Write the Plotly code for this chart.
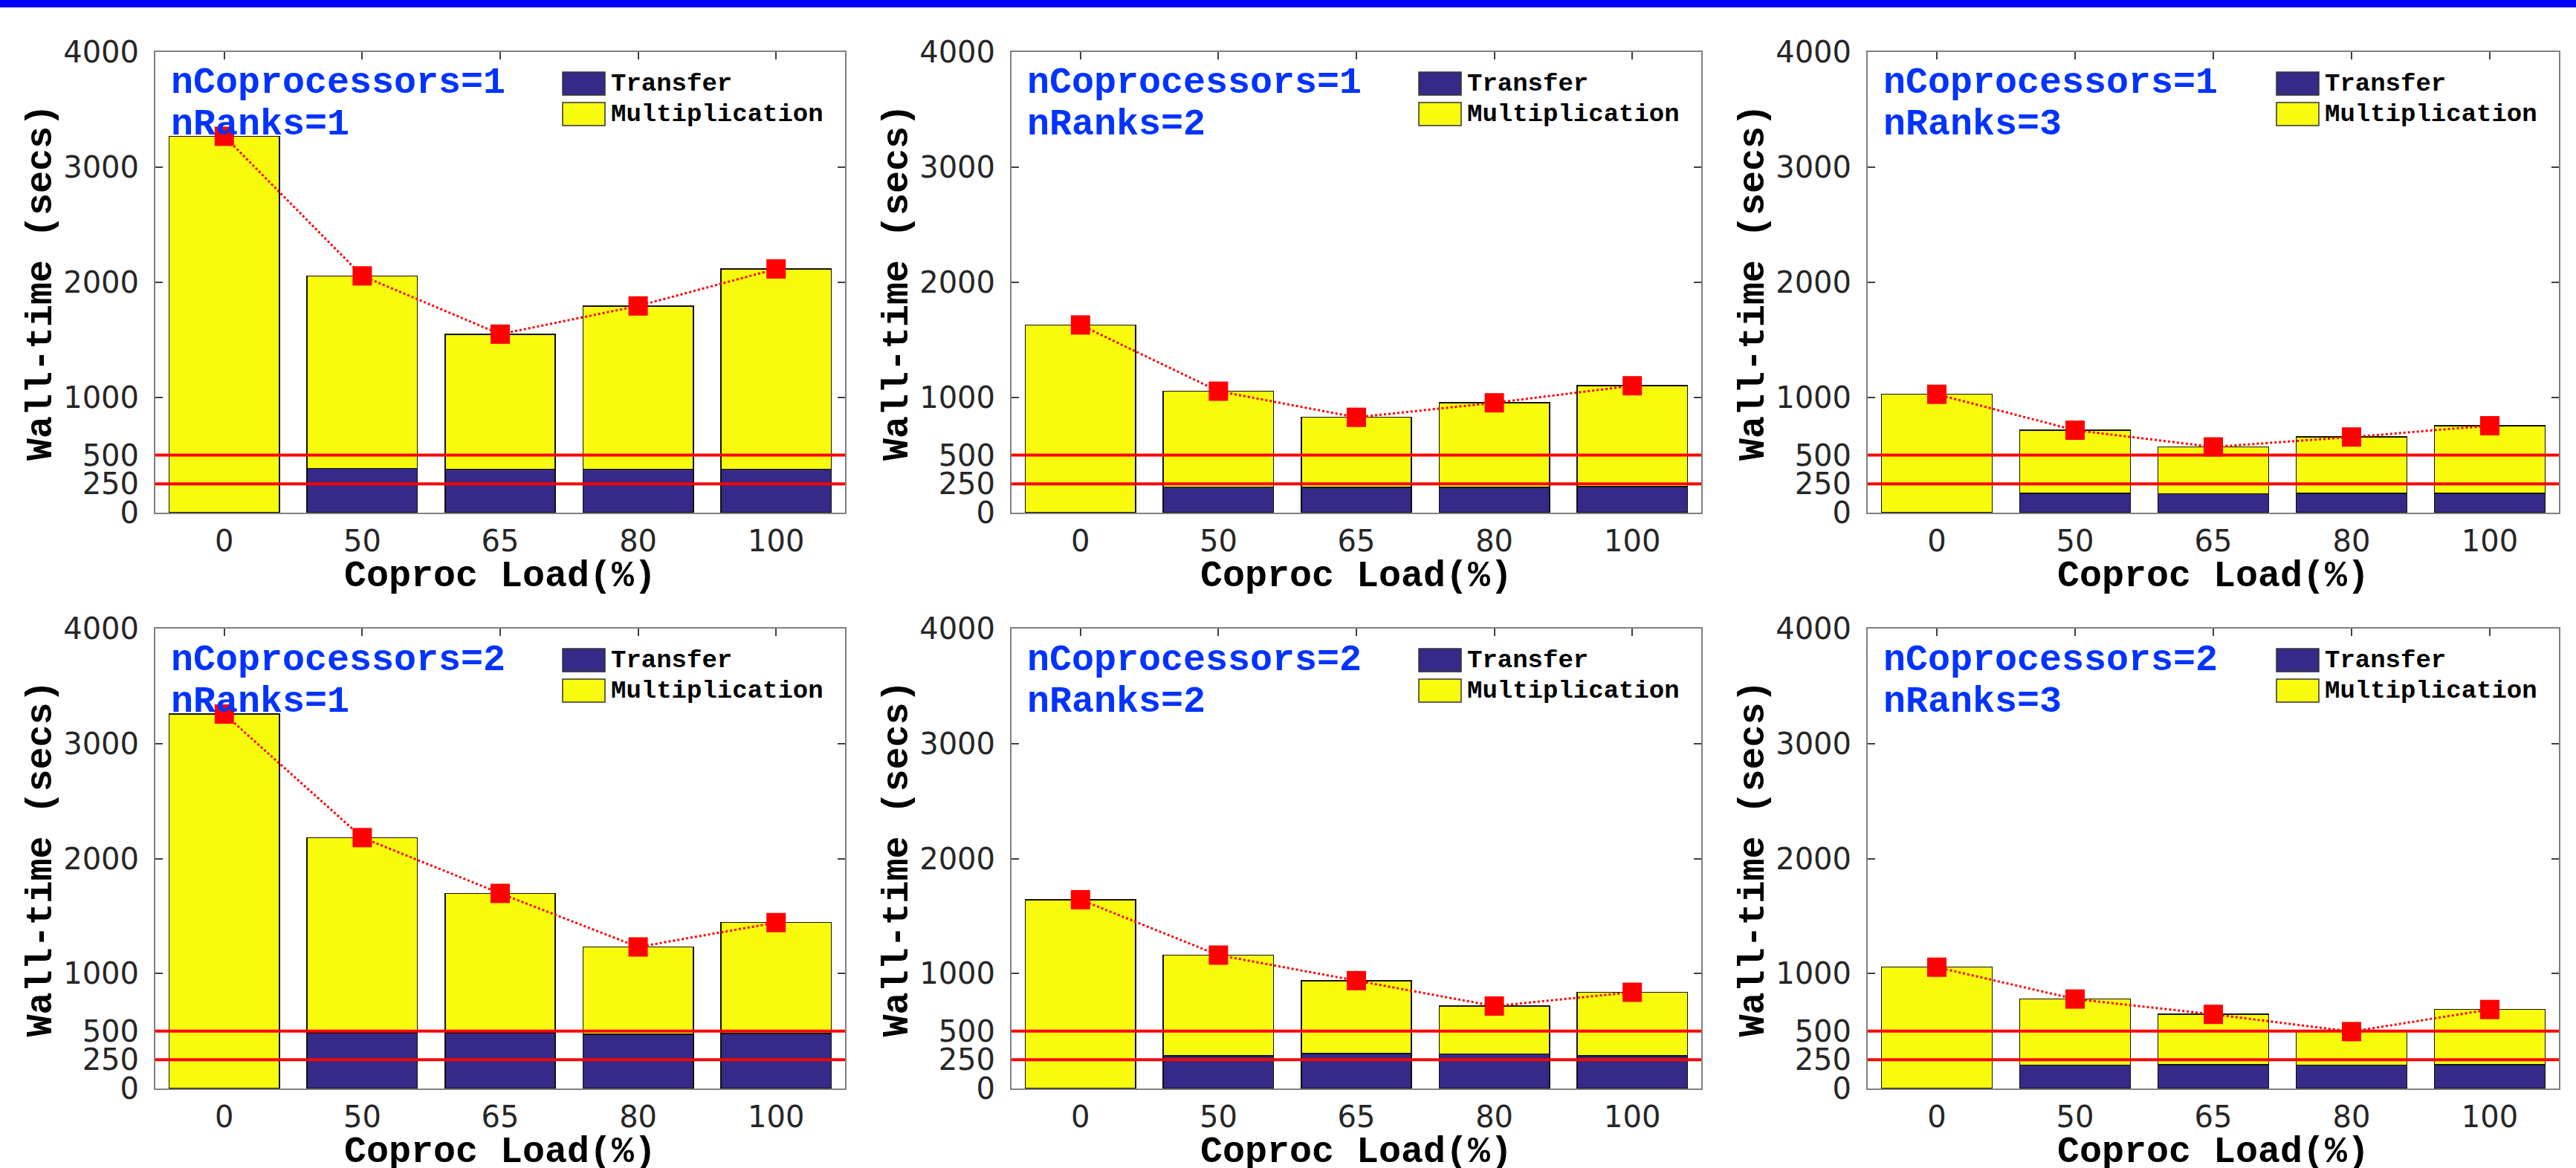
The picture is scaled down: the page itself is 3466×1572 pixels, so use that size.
import plotly.graph_objects as go
from plotly.subplots import make_subplots

W, H = 3466, 1572

# ---------------- data ----------------
loads = ["0", "50", "65", "80", "100"]
coproc_counts = [1, 2]
rank_counts = [1, 2, 3]

# nCoprocessors = 1
transfer_c1_r1 = [0, 385, 379, 379, 379]
multiplication_c1_r1 = [3268, 1671, 1171, 1416, 1737]
total_c1_r1 = [3268, 2056, 1550, 1795, 2116]

transfer_c1_r2 = [0, 222, 219, 219, 225]
multiplication_c1_r2 = [1630, 833, 609, 735, 877]
total_c1_r2 = [1630, 1055, 828, 954, 1102]

transfer_c1_r3 = [0, 169, 166, 169, 169]
multiplication_c1_r3 = [1028, 547, 405, 488, 586]
total_c1_r3 = [1028, 716, 571, 657, 755]

# nCoprocessors = 2
transfer_c2_r1 = [0, 485, 485, 472, 479]
multiplication_c2_r1 = [3257, 1697, 1212, 759, 964]
total_c2_r1 = [3257, 2182, 1697, 1231, 1443]

transfer_c2_r2 = [0, 283, 303, 300, 283]
multiplication_c2_r2 = [1642, 877, 635, 417, 554]
total_c2_r2 = [1642, 1160, 938, 717, 837]

transfer_c2_r3 = [0, 202, 208, 202, 208]
multiplication_c2_r3 = [1055, 576, 437, 293, 479]
total_c2_r3 = [1055, 778, 645, 495, 687]

y_tickvals = [0, 250, 500, 1000, 2000, 3000, 4000]
y_ticktext = ["0", "250", "500", "1000", "2000", "3000", "4000"]
threshold_values = [250, 500]

panels = {
    (1, 1): (transfer_c1_r1, multiplication_c1_r1, total_c1_r1),
    (1, 2): (transfer_c1_r2, multiplication_c1_r2, total_c1_r2),
    (1, 3): (transfer_c1_r3, multiplication_c1_r3, total_c1_r3),
    (2, 1): (transfer_c2_r1, multiplication_c2_r1, total_c2_r1),
    (2, 2): (transfer_c2_r2, multiplication_c2_r2, total_c2_r2),
    (2, 3): (transfer_c2_r3, multiplication_c2_r3, total_c2_r3),
}

# ---------------- styling / layout ----------------
COL_X = [(209, 1137), (1361, 2289), (2513, 3443)]
ROW_Y = [(70, 690), (846, 1465)]

TRANSFER_COLOR = "#352A87"
MULT_COLOR = "#F9FB0E"
MONO = "Courier New, Liberation Mono, monospace"
SANS = "DejaVu Sans, sans-serif"


def px(x):
    return x / W


def py(y):
    return 1 - y / H


fig = make_subplots(rows=2, cols=3)

annotations = []
shapes = []

# blue band on top of the page
shapes.append(dict(type="rect", xref="paper", yref="paper", x0=0, x1=1,
                   y0=py(10), y1=1, fillcolor="#0000FF", line=dict(width=0),
                   layer="above"))

for (r, c), (tr, mu, tot) in panels.items():
    ncop = coproc_counts[r - 1]
    nrk = rank_counts[c - 1]
    fig.add_trace(go.Bar(x=loads, y=tr, name="Transfer", marker_color=TRANSFER_COLOR,
                         marker_line=dict(color="#111111", width=1.5), showlegend=False),
                  row=r, col=c)
    fig.add_trace(go.Bar(x=loads, y=mu, name="Multiplication", marker_color=MULT_COLOR,
                         marker_line=dict(color="#111111", width=1.5), showlegend=False),
                  row=r, col=c)
    fig.add_trace(go.Scatter(x=loads, y=tot, mode="lines+markers", showlegend=False,
                             line=dict(color="#FF0000", width=3, dash="dot"),
                             marker=dict(symbol="square", size=26, color="#FF0000")),
                  row=r, col=c)
    for v in threshold_values:
        fig.add_hline(y=v, line=dict(color="#FF0000", width=4), row=r, col=c)

    x0, x1 = COL_X[c - 1]
    y0, y1 = ROW_Y[r - 1]
    fig.update_xaxes(domain=[px(x0), px(x1)], row=r, col=c)
    fig.update_yaxes(domain=[py(y1), py(y0)], row=r, col=c)

    # panel label text
    annotations.append(dict(text=f"<b>nCoprocessors={ncop}</b>", xref="paper", yref="paper",
                            x=px(x0 + 19), y=py(y0 + 42), xanchor="left", yanchor="middle",
                            showarrow=False, font=dict(family=MONO, size=50, color="#0033FF")))
    annotations.append(dict(text=f"<b>nRanks={nrk}</b>", xref="paper", yref="paper",
                            x=px(x0 + 19), y=py(y0 + 98), xanchor="left", yanchor="middle",
                            showarrow=False, font=dict(family=MONO, size=50, color="#0033FF")))

    # legend (swatches + labels)
    for k, (lab, colr) in enumerate([("Transfer", TRANSFER_COLOR), ("Multiplication", MULT_COLOR)]):
        sy0 = y0 + 27 + k * 41
        shapes.append(dict(type="rect", xref="paper", yref="paper",
                           x0=px(x1 - 380), x1=px(x1 - 323), y0=py(sy0 + 31), y1=py(sy0),
                           fillcolor=colr, line=dict(color="#333333", width=1.5), layer="above"))
        annotations.append(dict(text=f"<b>{lab}</b>", xref="paper", yref="paper",
                                x=px(x1 - 317), y=py(sy0 + 15.5), xanchor="left", yanchor="middle",
                                showarrow=False, font=dict(family=MONO, size=34, color="#000000")))

    # axis titles
    annotations.append(dict(text="<b>Wall-time (secs)</b>", xref="paper", yref="paper",
                            x=px(x0 - 154), y=py((y0 + y1) / 2), xanchor="center", yanchor="middle",
                            textangle=-90, showarrow=False,
                            font=dict(family=MONO, size=50, color="#000000")))
    annotations.append(dict(text="<b>Coproc Load(%)</b>", xref="paper", yref="paper",
                            x=px((x0 + x1) / 2), y=py(y1 + 85), xanchor="center", yanchor="middle",
                            showarrow=False, font=dict(family=MONO, size=50, color="#000000")))

fig.update_xaxes(type="category", categoryorder="array", categoryarray=loads,
                 range=[-0.5, 4.5], showline=True, linecolor="#808080", linewidth=2,
                 mirror="ticks", ticks="inside", ticklen=10, tickwidth=1.5, tickcolor="#404040",
                 tickfont=dict(family=SANS, size=40, color="#262626"), ticklabelstandoff=2,
                 showgrid=False, zeroline=False, layer="below traces", automargin=False)
fig.update_yaxes(range=[0, 4000], tickmode="array", tickvals=y_tickvals, ticktext=y_ticktext,
                 showline=True, linecolor="#808080", linewidth=2, mirror="ticks",
                 ticks="inside", ticklen=10, tickwidth=1.5, tickcolor="#404040",
                 tickfont=dict(family=SANS, size=40, color="#262626"), ticklabelstandoff=12,
                 showgrid=False, zeroline=False, layer="below traces", automargin=False)

fig.update_layout(width=W, height=H, autosize=False, barmode="stack", bargap=0.2,
                  margin=dict(l=0, r=0, t=0, b=0, pad=0, autoexpand=False),
                  paper_bgcolor="white", plot_bgcolor="white",
                  showlegend=False)
fig.update_layout(annotations=list(fig.layout.annotations) + annotations,
                  shapes=list(fig.layout.shapes) + shapes)

fig.write_html("out.html", config={"displayModeBar": False},
               post_script="document.body.style.margin='0px';document.body.style.overflow='hidden';")
